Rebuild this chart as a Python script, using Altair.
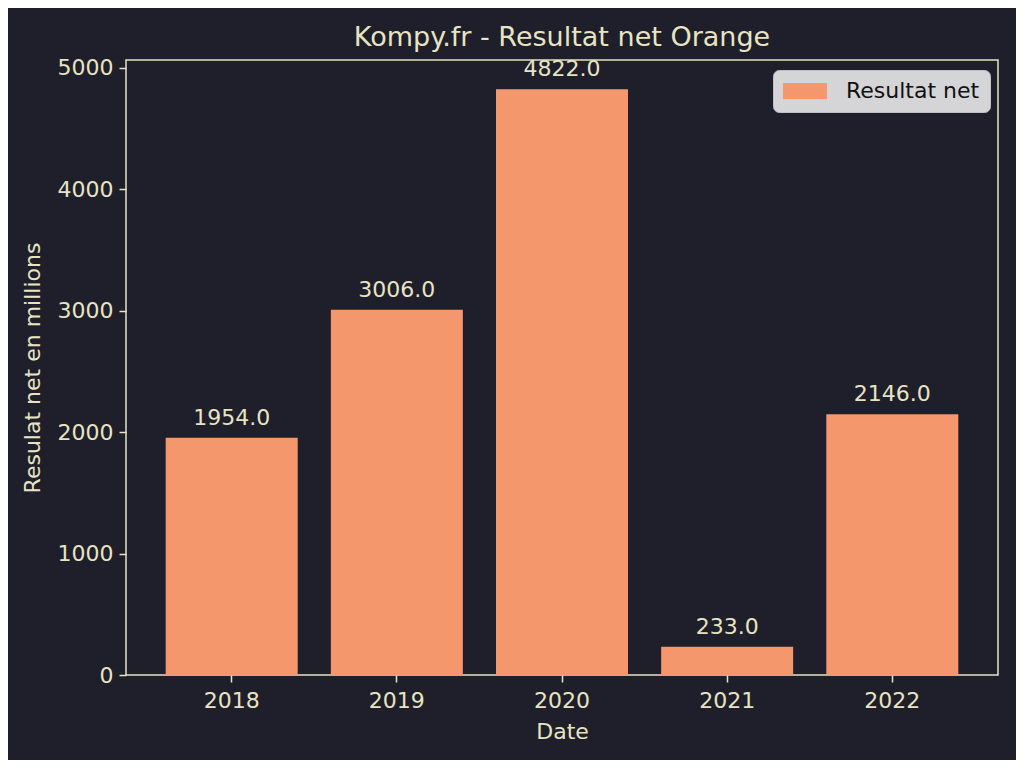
import altair as alt
import pandas as pd

years = ["2018", "2019", "2020", "2021", "2022"]
values = [1954.0, 3006.0, 4822.0, 233.0, 2146.0]
series = ["Resultat net"] * 5

df = pd.DataFrame({"Date": years, "value": values, "series": series})

BG = "#1e1f2a"
FG = "#e8e4c2"
BAR = "#f4976c"
FONT = "DejaVu Sans"
FS = 22

x = alt.X("Date:N", title="Date",
          scale=alt.Scale(paddingInner=0.2, paddingOuter=0.24),
          axis=alt.Axis(labelAngle=0, labelFontSize=FS, titleFontSize=FS,
                        labelPadding=8, titlePadding=10, tickSize=7,
                        domain=False, tickColor=FG, labelColor=FG, titleColor=FG,
                        labelFont=FONT, titleFont=FONT, tickWidth=1.5,
                        titleFontWeight="normal"))
y = alt.Y("value:Q", title="Resulat net en millions",
          scale=alt.Scale(domain=[0, 5063], nice=False, zero=True),
          axis=alt.Axis(values=[0, 1000, 2000, 3000, 4000, 5000], grid=False, format="d",
                        labelFontSize=FS, titleFontSize=FS, tickSize=7,
                        labelPadding=6, titlePadding=13, domain=False,
                        tickColor=FG, labelColor=FG, titleColor=FG,
                        labelFont=FONT, titleFont=FONT, tickWidth=1.5,
                        titleFontWeight="normal"))

bars = alt.Chart(df).mark_bar(size=132).encode(
    x=x, y=y,
    color=alt.Color("series:N", scale=alt.Scale(range=[BAR]),
                    legend=alt.Legend(title=None, orient="none", legendX=647, legendY=10,
                                      fillColor="#d5d5d8", strokeColor="#c0c0c0",
                                      cornerRadius=6, padding=10,
                                      labelColor="#111111", labelFontSize=FS, labelFont=FONT,
                                      symbolType="M-1,-0.72L3,-0.72L3,0.72L-1,0.72Z",
                                      symbolSize=484, symbolStrokeWidth=0,
                                      labelOffset=41))
)

labels = alt.Chart(df).mark_text(dy=-8, baseline="bottom", fontSize=FS, font=FONT, color=FG).encode(
    x=alt.X("Date:N"), y=alt.Y("value:Q"),
    text=alt.Text("value:Q", format=".1f")
)

chart = alt.layer(bars, labels).properties(
    width=872, height=615,
    title=alt.TitleParams("Kompy.fr - Resultat net Orange", fontSize=27, font=FONT,
                          color=FG, fontWeight="normal", offset=5),
    background=BG,
    padding={"left": 118, "top": 52, "right": 18, "bottom": 85},
    autosize=alt.AutoSizeParams(type="none"),
).configure_view(stroke=FG, strokeWidth=1.5)

chart.save("out.html", embed_options={"renderer": "svg", "actions": False})
